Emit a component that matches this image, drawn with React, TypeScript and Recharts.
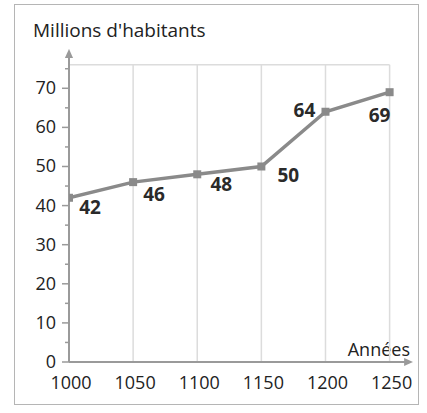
import { LineChart, Line, XAxis, YAxis, ReferenceLine, LabelList } from "recharts";

// population (millions) by year
const years = [1000, 1050, 1100, 1150, 1200, 1250];
const population = [42, 46, 48, 50, 64, 69];
const xTicks = [1000, 1050, 1100, 1150, 1200, 1250];
const yTicks = [0, 5, 10, 15, 20, 25, 30, 35, 40, 45, 50, 55, 60, 65, 70, 75];

const data = years.map((year, i) => ({ year, value: population[i] }));

const GRID_TOP = 76;
const AXIS = "#9a9a9a";
const GRID = "#dcdcdc";
const LINE = "#8a8a8a";
const TEXT = "#222";
const FONT = "'Open Sans', sans-serif";

// where each value label sits relative to its point (dx, dy)
const labelOffsets = [
    [21, 9],
    [21, 12],
    [24, 10],
    [27, 9],
    [-21, -2],
    [-10, 23],
];

const YTick = (props: any) => {
    const { x, y, payload } = props;
    const major = payload.value % 10 === 0;
    return (
        <g>
            <line x1={x} x2={x - (major ? 7 : 4)} y1={y} y2={y} stroke={AXIS} strokeWidth={1.5} />
            {major && (
                <text x={x - 13} y={y + 6} textAnchor="end" fontSize={18} fontFamily={FONT} fill={TEXT}>
                    {payload.value}
                </text>
            )}
        </g>
    );
};

const XTick = (props: any) => {
    const { x, y, payload } = props;
    return (
        <text x={x + 2} y={y + 27} textAnchor="middle" fontSize={18} fontFamily={FONT} fill={TEXT}>
            {payload.value}
        </text>
    );
};

const Square = (props: any) => {
    const { cx, cy } = props;
    if (cx == null || cy == null) return null;
    return <rect x={cx - 4} y={cy - 4} width={8} height={8} fill={LINE} />;
};

const ValueLabel = (props: any) => {
    const { x, y, value, index } = props;
    const [dx, dy] = labelOffsets[index] || [0, 0];
    return (
        <text
            x={x + dx}
            y={y + dy + 7}
            textAnchor="middle"
            fontSize={19}
            fontWeight="bold"
            fontFamily={FONT}
            fill="#2a2a2a"
        >
            {value}
        </text>
    );
};

export default function App() {
    return (
        <div style={{ position: "absolute", left: 0, top: 0, width: 427, height: 413, background: "#fff" }}>
            <div
                style={{
                    position: "absolute",
                    left: 14,
                    top: 4,
                    width: 403,
                    height: 399,
                    border: "1.5px solid #b5b5b5",
                }}
            />
            <div style={{ position: "absolute", left: 0, top: 0 }}>
                <LineChart
                    width={427}
                    height={413}
                    data={data}
                    margin={{ top: 57, right: 22, bottom: 15, left: 24 }}
                >
                    <defs>
                        <marker
                            id="axisArrow"
                            viewBox="0 0 10 10"
                            refX="1"
                            refY="5"
                            markerWidth="9"
                            markerHeight="9"
                            markerUnits="userSpaceOnUse"
                            orient="auto-start-reverse"
                        >
                            <path d="M0,0.5 L10,5 L0,9.5 z" fill={AXIS} />
                        </marker>
                    </defs>
                    {xTicks.slice(1).map((t) => (
                        <ReferenceLine
                            key={t}
                            segment={[{ x: t, y: 0 }, { x: t, y: GRID_TOP }]}
                            stroke={GRID}
                            strokeWidth={1.5}
                        />
                    ))}
                    <ReferenceLine
                        segment={[{ x: 1000, y: GRID_TOP }, { x: 1250, y: GRID_TOP }]}
                        stroke={GRID}
                        strokeWidth={1.5}
                    />
                    <XAxis
                        dataKey="year"
                        type="number"
                        domain={[1000, 1262]}
                        ticks={xTicks}
                        height={36}
                        tickSize={0}
                        tickMargin={0}
                        tickLine={false}
                        axisLine={{ stroke: AXIS, strokeWidth: 2, markerEnd: "url(#axisArrow)" }}
                        tick={<XTick />}
                        interval={0}
                        allowDataOverflow
                    />
                    <YAxis
                        type="number"
                        domain={[0, 78]}
                        ticks={yTicks}
                        width={45}
                        tickSize={0}
                        tickMargin={0}
                        tickLine={false}
                        axisLine={{ stroke: AXIS, strokeWidth: 2, markerStart: "url(#axisArrow)" }}
                        tick={<YTick />}
                        interval={0}
                        allowDataOverflow
                    />
                    <Line
                        dataKey="value"
                        stroke={LINE}
                        strokeWidth={3.5}
                        dot={<Square />}
                        activeDot={false}
                        isAnimationActive={false}
                    >
                        <LabelList dataKey="value" content={<ValueLabel />} />
                    </Line>
                    <text x={33} y={37} fontSize={19} fontFamily={FONT} fill={TEXT}>
                        Millions d'habitants
                    </text>
                    <text x={410} y={356} textAnchor="end" fontSize={18} fontFamily={FONT} fill={TEXT}>
                        Années
                    </text>
                </LineChart>
            </div>
        </div>
    );
}
